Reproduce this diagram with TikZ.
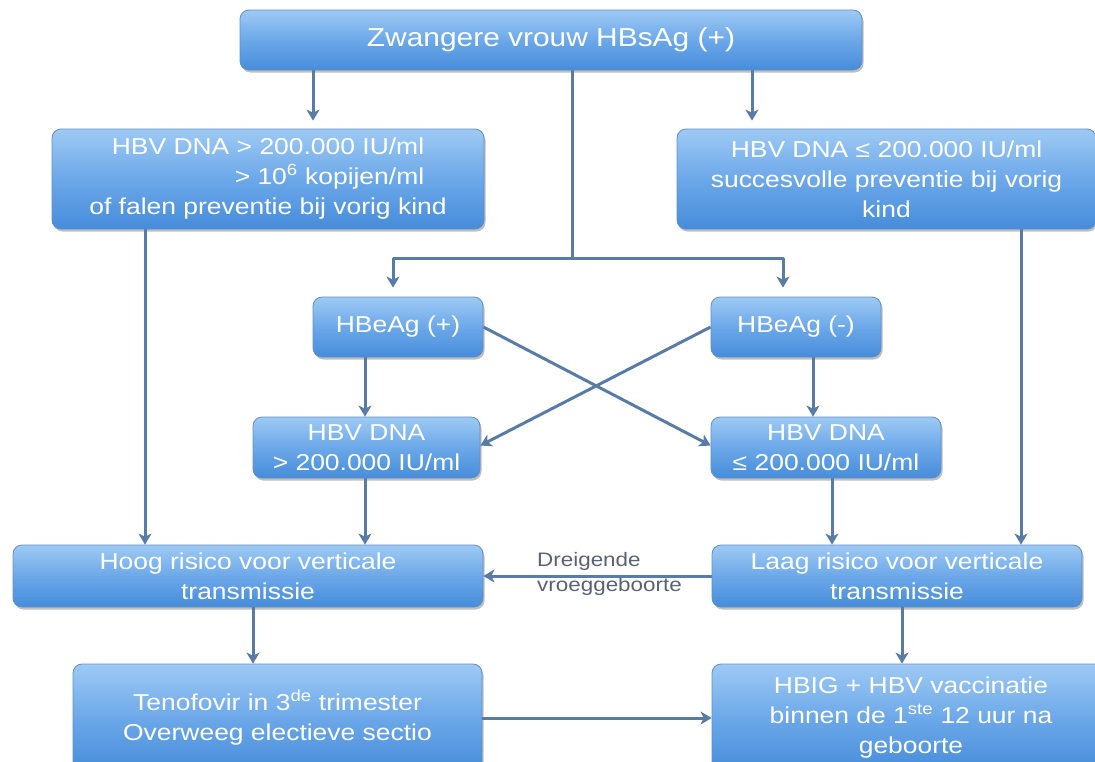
\documentclass[tikz,border=0pt]{standalone}
\usepackage{fontspec}
\usepackage{calc}
\setmainfont{Liberation Sans}[FakeStretch=1.15]
\usetikzlibrary{arrows.meta,shadows}

\definecolor{boxtop}{RGB}{158,202,244}
\definecolor{boxmid}{RGB}{108,168,233}
\definecolor{boxbot}{RGB}{70,140,218}
\definecolor{boxline}{RGB}{98,142,196}
\definecolor{arrowc}{RGB}{88,124,166}
\definecolor{labelc}{RGB}{88,98,116}

\tikzset{
  flowbox/.style={rectangle, rounded corners=9pt, draw=boxline, line width=0.8pt,
    top color=boxtop, bottom color=boxbot, middle color=boxmid,
    text=white, align=center, inner sep=0pt,
    font=\fontsize{23}{30}\selectfont,
    drop shadow={shadow xshift=1.5pt, shadow yshift=-2.5pt, opacity=0.25, fill=black}},
  link/.style={draw=arrowc, line width=3pt, line join=round},
  arr/.style={link, -{Stealth[length=11pt,width=13pt,inset=3pt]}},
}

\begin{document}
\begin{tikzpicture}[x=1pt,y=-1pt]
\useasboundingbox (0,0) rectangle (1095,761);

% boxes
\node[flowbox, minimum width=622pt, minimum height=60pt, font=\fontsize{26}{30}\selectfont]
  (top) at (551,40) {Zwangere vrouw HBsAg (+)};
\node[flowbox, minimum width=432pt, minimum height=100pt] (hi) at (268,179)
  {HBV DNA > 200.000 IU/ml\\
   \makebox[\widthof{HBV DNA > 200.000 IU/ml}][r]{> 10\textsuperscript{6} kopijen/ml}\\
   of falen preventie bij vorig kind};
\node[flowbox, minimum width=419pt, minimum height=100pt] (lo) at (886.5,179)
  {HBV DNA ≤ 200.000 IU/ml\\succesvolle preventie bij vorig\\kind};
\node[flowbox, minimum width=170pt, minimum height=60pt] (ep) at (398,327) {HBeAg (+)};
\node[flowbox, minimum width=170pt, minimum height=60pt] (em) at (796,327) {HBeAg (-)};
\node[flowbox, minimum width=227pt, minimum height=61pt] (dh) at (366.5,447.5)
  {HBV DNA\\> 200.000 IU/ml};
\node[flowbox, minimum width=230pt, minimum height=61pt] (dl) at (826,447.5)
  {HBV DNA\\≤ 200.000 IU/ml};
\node[flowbox, minimum width=470pt, minimum height=62pt] (hoog) at (248,576)
  {Hoog risico voor verticale\\transmissie};
\node[flowbox, minimum width=370pt, minimum height=62pt] (laag) at (897,576)
  {Laag risico voor verticale\\transmissie};
\node[flowbox, minimum width=409pt, minimum height=108pt] (teno) at (277.5,718)
  {Tenofovir in 3\textsuperscript{de} trimester\\Overweeg electieve sectio};
\node[flowbox, minimum width=398pt, minimum height=108pt] (hbig) at (911,718)
  {HBIG + HBV vaccinatie\\binnen de 1\textsuperscript{ste} 12 uur na\\geboorte};

% label on the preterm arrow
\node[anchor=west, align=left, text=labelc, inner sep=0pt,
      font=\fontsize{19.5}{25}\selectfont] (lbl) at (537,574)
  {Dreigende\\vroeggeboorte};

% connectors from the top box
\draw[arr, shorten >=8pt] ([xshift=-238pt]top.south) -- ([xshift=45pt]hi.north);
\draw[arr, shorten >=8pt] ([xshift=201pt]top.south) -- ([xshift=-134.5pt]lo.north);
\coordinate (split) at (572,258);
\draw[link] ([xshift=21pt]top.south) -- (split);
\draw[arr, shorten >=9pt] (split) -| ([xshift=-5pt]ep.north);
\draw[arr, shorten >=9pt] (split) -| ([xshift=-13pt]em.north);

% HBeAg to HBV DNA
\draw[arr] ([xshift=-33pt]ep.south) -- ([xshift=-1.5pt]dh.north);
\draw[arr] ([xshift=17pt]em.south) -- ([xshift=-13pt]dl.north);
\draw[arr] (ep.east) -- ([yshift=2pt]dl.west);
\draw[arr] (em.west) -- ([yshift=2pt]dh.east);

% to the risk boxes
\draw[arr] ([xshift=-123pt]hi.south) -- ([xshift=-103pt]hoog.north);
\draw[arr] ([xshift=134.5pt]lo.south) -- ([xshift=124pt]laag.north);
\draw[arr] ([xshift=-1.5pt]dh.south) -- ([xshift=117pt]hoog.north);
\draw[arr] ([xshift=6pt]dl.south) -- ([xshift=-65pt]laag.north);
\draw[arr] (laag.west) -- (hoog.east);

% to the treatment boxes
\draw[arr] ([xshift=5pt]hoog.south) -- ([xshift=-24.5pt]teno.north);
\draw[arr] ([xshift=5pt]laag.south) -- ([xshift=-9pt]hbig.north);
\draw[arr] (teno.east) -- (hbig.west);
\end{tikzpicture}
\end{document}
